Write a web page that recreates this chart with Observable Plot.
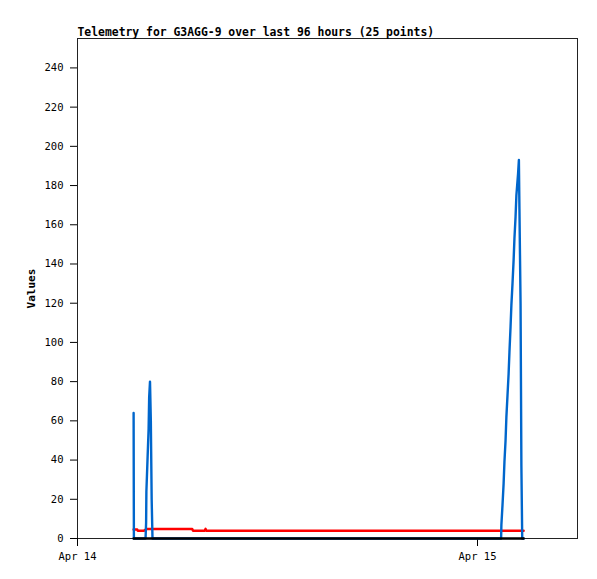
<!DOCTYPE html>
<html>
<head>
<meta charset="utf-8">
<script src="https://cdn.jsdelivr.net/npm/d3@7"></script>
<script src="https://cdn.jsdelivr.net/npm/@observablehq/plot@0.6"></script>
<style>
  html, body { margin: 0; padding: 0; background: white; }
  #chart svg { display: block; }
</style>
</head>
<body>
<div id="chart"></div>
<script>
const titleText = "Telemetry for G3AGG-9 over last 96 hours (25 points)";
const yLabel = "Values";
const yTicks = [0, 20, 40, 60, 80, 100, 120, 140, 160, 180, 200, 220, 240];
const xTickTimes = ["2024-04-14T00:00Z", "2024-04-15T00:00Z"];
const xTickLabels = ["Apr 14", "Apr 15"];
const xDomain = ["2024-04-14T00:00Z", "2024-04-15T06:00Z"];

const blueTimes = [
  "2024-04-14T03:22Z", "2024-04-14T03:23Z", "2024-04-14T04:05Z", "2024-04-14T04:07Z",
  "2024-04-14T04:08Z", "2024-04-14T04:12Z", "2024-04-14T04:16Z", "2024-04-14T04:18Z",
  "2024-04-14T04:21Z", "2024-04-14T04:24Z", "2024-04-14T04:27Z", "2024-04-14T04:30Z",
  "2024-04-15T01:25Z", "2024-04-15T01:26Z", "2024-04-15T01:30Z", "2024-04-15T01:34Z",
  "2024-04-15T01:37Z", "2024-04-15T01:41Z", "2024-04-15T01:44Z", "2024-04-15T01:48Z",
  "2024-04-15T01:52Z", "2024-04-15T01:55Z", "2024-04-15T01:59Z", "2024-04-15T02:02Z",
  "2024-04-15T02:06Z", "2024-04-15T02:10Z", "2024-04-15T02:13Z", "2024-04-15T02:17Z",
  "2024-04-15T02:20Z", "2024-04-15T02:26Z", "2024-04-15T02:29Z", "2024-04-15T02:31Z",
  "2024-04-15T02:35Z", "2024-04-15T02:38Z", "2024-04-15T02:41Z", "2024-04-15T02:46Z"
];
const blueValues = [
  64, 0, 0, 8,
  24, 40, 56, 72,
  80, 60, 20, 0,
  0, 7, 17, 28,
  39, 50, 62, 73,
  84, 95, 108, 119,
  130, 142, 153, 164,
  175, 186, 193, 168,
  120, 37, 0, 0
];

const redTimes = [
  "2024-04-14T03:22Z", "2024-04-14T03:35Z", "2024-04-14T03:37Z", "2024-04-14T03:58Z",
  "2024-04-14T04:10Z", "2024-04-14T06:53Z", "2024-04-14T06:56Z", "2024-04-14T07:38Z",
  "2024-04-14T07:41Z", "2024-04-14T07:44Z", "2024-04-15T02:46Z"
];
const redValues = [4.6, 4.6, 3.9, 3.9, 4.9, 4.9, 3.9, 3.9, 4.9, 3.9, 3.9];

const blackTimes = ["2024-04-14T03:22Z", "2024-04-15T02:46Z"];
const blackValues = [0, 0];

const toRows = (ts, vs) => ts.map((t, i) => ({t: new Date(t), v: vs[i]}));
const blue = toRows(blueTimes, blueValues);
const red = toRows(redTimes, redValues);
const black = toRows(blackTimes, blackValues);
const xTicks = xTickTimes.map(t => new Date(t));

const font = "'DejaVu Sans Mono', 'Liberation Mono', monospace";

const chart = Plot.plot({
  width: 597,
  height: 579,
  marginLeft: 77,
  marginRight: 20,
  marginTop: 38,
  marginBottom: 41,
  style: {fontFamily: font, fontSize: "10.5px", background: "white", color: "black", overflow: "visible"},
  x: {type: "utc", domain: xDomain.map(d => new Date(d))},
  y: {domain: [0, 255]},
  marks: [
    Plot.frame({stroke: "#222"}),
    Plot.axisY({ticks: yTicks, tickSize: 7, tickPadding: 7, label: null, tickFormat: d => String(d)}),
    Plot.axisX({
      ticks: xTicks, tickSize: 8, tickPadding: 6, label: null,
      tickFormat: d => xTickLabels[xTicks.findIndex(t => +t === +d)]
    }),
    Plot.line(red, {x: "t", y: "v", stroke: "#ff0000", strokeWidth: 2.5}),
    Plot.line(blue, {x: "t", y: "v", stroke: "#0066cc", strokeWidth: 2.4}),
    Plot.line(black, {x: "t", y: "v", stroke: "#000000", strokeWidth: 2.5}),
    Plot.text([titleText], {frameAnchor: "top-left", dy: -3, lineAnchor: "bottom", textAnchor: "start", fontWeight: "bold", fontSize: 11.4}),
    Plot.text([yLabel], {frameAnchor: "left", dx: -46, rotate: -90, textAnchor: "middle", fontWeight: "bold", fontSize: 11})
  ]
});
document.getElementById("chart").appendChild(chart);
</script>
</body>
</html>
